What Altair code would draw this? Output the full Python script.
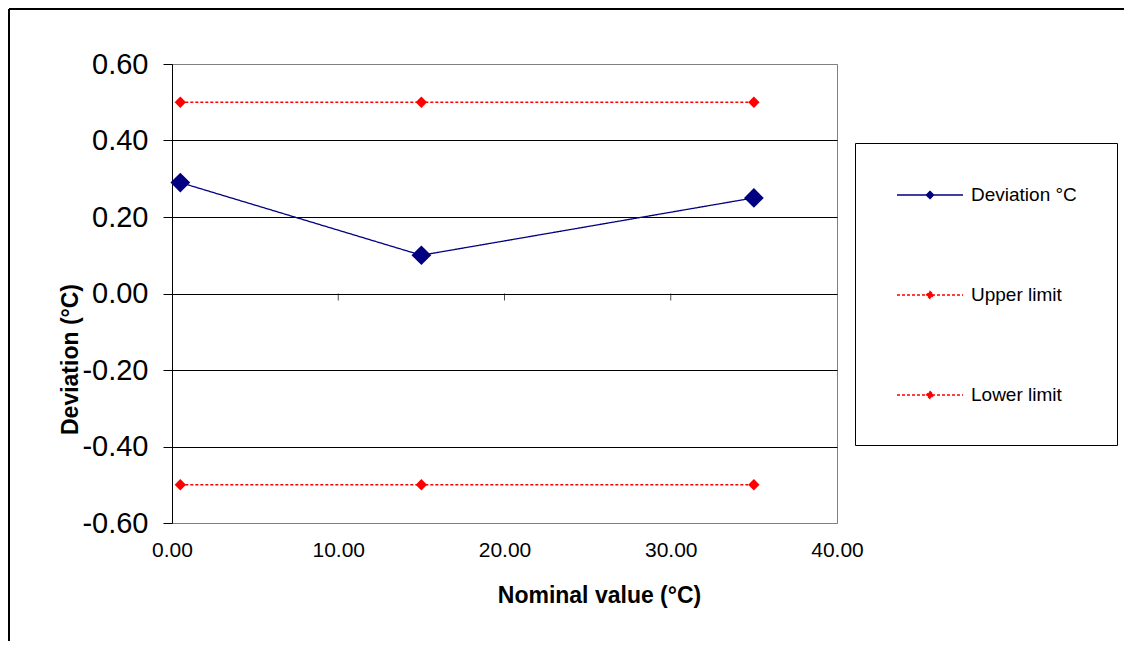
import altair as alt
import pandas as pd

# ---- data ----
series_names = ["Deviation °C", "Upper limit", "Lower limit"]
nominal = [0.5, 15.0, 35.0]
deviation = [0.29, 0.10, 0.25]
upper_limit = [0.5, 0.5, 0.5]
lower_limit = [-0.5, -0.5, -0.5]
x_ticks = [0, 10, 20, 30, 40]
y_ticks = [-0.6, -0.4, -0.2, 0.0, 0.2, 0.4, 0.6]

series_colors = ["#000080", "#FF0000", "#FF0000"]
series_dashes = [[1, 0], [3, 2], [3, 2]]

rows = []
for name, vals in zip(series_names, [deviation, upper_limit, lower_limit]):
    for xv, yv in zip(nominal, vals):
        rows.append({"series": name, "nominal": xv, "value": yv})
df = pd.DataFrame(rows)

FONT = "Liberation Sans"
W, H = 665, 459
PAD = {"left": 164, "top": 56, "right": 287, "bottom": 118}

# line segment with a small filled diamond in the middle (legend symbol)
SYMBOL_PATH = "M-3,0L3,0M0,-0.33L0.33,0L0,0.33L-0.33,0Z"

legend = alt.Legend(
    title=None, orient="none", legendX=683, legendY=79, direction="vertical",
    symbolType=SYMBOL_PATH, symbolSize=484, symbolStrokeWidth=1.3, symbolOpacity=1,
    symbolOffset=23, labelOffset=29, labelFont=FONT, labelFontSize=19, labelColor="black",
    rowPadding=78, padding=40, strokeColor="black", fillColor="white",
)

x_enc = alt.X(
    "nominal:Q",
    scale=alt.Scale(domain=[0, 40], nice=False, zero=False),
    axis=alt.Axis(
        values=x_ticks, format=".2f", grid=False, domain=False, ticks=False, tickSize=0,
        labelFont=FONT, labelFontSize=21, labelColor="black", labelPadding=16,
        labelFlush=False, labelOverlap=False,
        title="Nominal value (°C)", titleFont=FONT, titleFontSize=23, titleFontWeight="bold",
        titleColor="black", titleX=427, titleY=79, titleBaseline="alphabetic", titleAlign="center",
    ),
)

y_enc = alt.Y(
    "value:Q",
    scale=alt.Scale(domain=[-0.6, 0.6], nice=False, zero=False),
    axis=alt.Axis(
        values=y_ticks,
        labelExpr="(datum.value < -0.001 ? '-' : '') + format(abs(datum.value), '.2f')",
        grid=True,
        gridColor={"condition": {"test": "abs(datum.value) > 0.55", "value": "#808080"}, "value": "black"},
        gridWidth=1, domain=True, domainColor="black", domainWidth=1,
        ticks=True, tickColor="black", tickSize=9, tickWidth=1,
        labelFont=FONT, labelFontSize=29, labelColor="black", labelPadding=15, labelOverlap=False,
        title="Deviation (°C)", titleFont=FONT, titleFontSize=23, titleFontWeight="bold",
        titleColor="black", titleAngle=270, titleX=-95, titleY=295,
        titleBaseline="alphabetic", titleAlign="center",
    ),
)

color_enc = alt.Color("series:N", scale=alt.Scale(domain=series_names, range=series_colors), legend=legend)
dash_enc = alt.StrokeDash("series:N", scale=alt.Scale(domain=series_names, range=series_dashes), legend=legend)

base = alt.Chart(df)

lines = base.mark_line(strokeWidth=1.3).encode(
    x=x_enc, y=y_enc, color=color_enc, strokeDash=dash_enc, detail="series:N"
)
dev_points = base.transform_filter(alt.datum.series == series_names[0]).mark_point(
    filled=True, shape="diamond", opacity=1, size=390
).encode(x=x_enc, y=y_enc, color=color_enc)
limit_points = base.transform_filter(alt.datum.series != series_names[0]).mark_point(
    filled=True, shape="diamond", opacity=1, size=130
).encode(x=x_enc, y=y_enc, color=color_enc)

tick_df = pd.DataFrame({"nominal": x_ticks[1:-1]})
zero_ticks = alt.Chart(tick_df).mark_tick(
    orient="vertical", size=7, thickness=1, color="black", yOffset=3.5
).encode(x=alt.X("nominal:Q"), y=alt.datum(0))

frame_df = pd.DataFrame({"k": [0]})
frame_top = alt.Chart(frame_df).mark_rule(color="black", strokeWidth=2).encode(
    x=alt.value(-PAD["left"] + 1), x2=alt.value(W + PAD["right"]), y=alt.value(-PAD["top"] + 1)
)
frame_left = alt.Chart(frame_df).mark_rule(color="black", strokeWidth=2).encode(
    x=alt.value(-PAD["left"] + 1), y=alt.value(-PAD["top"] + 1), y2=alt.value(H + PAD["bottom"])
)

chart = alt.layer(lines, dev_points, limit_points, zero_ticks, frame_top, frame_left).properties(
    width=W, height=H, padding=PAD, autosize=alt.AutoSizeParams(type="none"),
    background="white",
).configure_view(stroke="#808080", strokeWidth=1)

chart.save("out.html", embed_options={"renderer": "svg", "actions": False})
